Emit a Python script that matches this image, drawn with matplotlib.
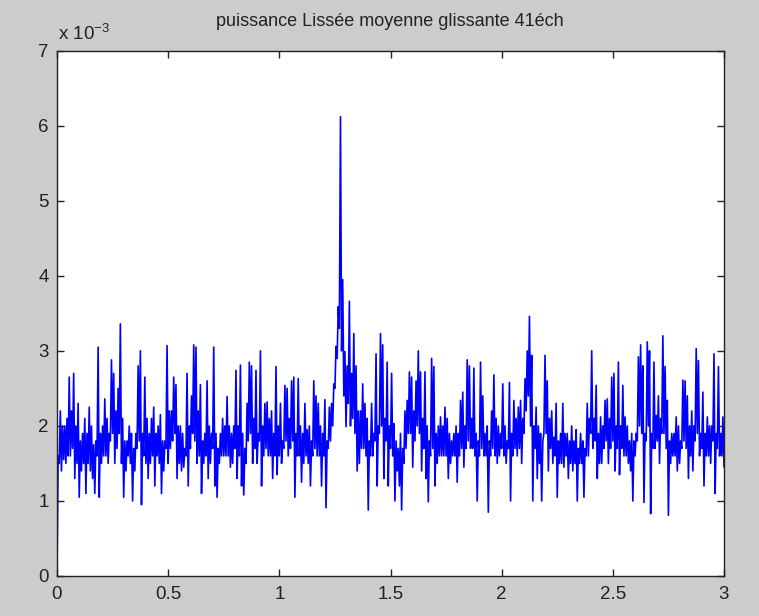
import matplotlib
matplotlib.use("Agg")
import matplotlib.pyplot as plt

# Frequency bins (step 0.01 from 0 to 3); each bin holds the min and max of the
# dense smoothed power trace (units of 1e-3).
freq_start = 0.0
freq_step = 0.01

power_lo_a = [0.0, 1.5, 1.4, 1.55, 1.5, 1.6, 1.6, 1.7, 1.3, 1.5, 1.05, 1.4, 1.5, 1.1, 1.5, 1.4, 1.3, 1.1, 1.6, 1.05,
              1.5, 1.6, 1.6, 1.5, 1.8, 1.9, 1.5, 1.7, 1.9, 1.5, 1.05, 1.4, 1.6, 1.5, 1.0, 1.4, 1.7, 1.8, 0.95, 1.6,
              1.5, 1.3, 1.5, 1.6, 1.2, 1.6, 1.5, 1.1, 1.4, 1.7, 1.5, 1.7, 1.8, 1.9, 1.3, 1.5, 1.4, 1.45, 1.6, 1.2,
              1.7, 1.9, 1.8, 1.5, 1.6, 1.1, 1.5, 1.6, 1.3, 1.5, 1.7, 1.2, 1.05, 1.5, 1.6, 1.6]
power_hi_a = [1.6, 2.2, 2.0, 2.0, 2.1, 2.65, 2.2, 2.7, 2.0, 2.3, 1.8, 1.9, 2.1, 1.9, 2.25, 2.0, 1.75, 1.8, 3.05, 1.9,
              2.0, 2.36, 2.1, 1.9, 2.88, 2.7, 2.2, 2.5, 3.36, 2.1, 1.8, 1.8, 2.0, 1.9, 1.7, 1.9, 2.8, 3.0, 1.9, 2.65,
              2.1, 1.9, 2.1, 2.25, 1.9, 2.0, 2.15, 1.8, 1.8, 3.07, 2.2, 2.2, 2.65, 2.55, 2.0, 2.0, 1.9, 1.7, 2.7, 2.0,
              2.4, 3.08, 3.05, 2.2, 2.55, 1.8, 1.9, 2.6, 2.0, 1.9, 3.05, 1.9, 1.7, 1.9, 2.1, 2.0]

power_lo_b = [1.6, 1.6, 1.45, 1.5, 1.7, 1.3, 1.6, 1.2, 1.08, 1.5, 1.8, 1.9, 1.5, 1.7, 1.5, 1.8, 1.2, 1.6, 1.7, 1.6,
              1.6, 1.3, 1.6, 1.35, 1.6, 1.5, 1.7, 1.8, 1.6, 1.7, 1.8, 1.05, 1.6, 1.6, 1.25, 1.5, 1.6, 1.5, 1.2, 1.6,
              1.7, 1.6, 1.6, 1.2, 1.6, 0.91, 1.7, 1.8, 2.0, 2.5, 2.9, 3.3, 3.0, 2.4, 1.99, 2.3, 2.0, 2.1, 1.9, 1.4,
              1.5, 1.7, 1.7, 1.6, 0.88, 1.6, 1.6, 1.8, 1.2, 1.9, 2.0, 1.3, 1.8, 1.2, 1.7]
power_hi_b = [2.39, 2.0, 1.9, 2.0, 2.74, 2.0, 2.81, 1.9, 1.7, 2.3, 2.85, 2.8, 2.1, 2.74, 1.9, 3.0, 2.0, 2.3, 2.32, 2.1,
              2.2, 1.9, 2.79, 2.0, 2.3, 1.8, 2.54, 2.5, 2.1, 2.6, 2.65, 1.9, 2.63, 2.0, 1.9, 2.3, 1.95, 2.0, 1.8, 2.6,
              2.4, 2.3, 2.0, 1.9, 2.35, 1.8, 2.25, 2.3, 2.56, 3.06, 3.59, 6.12, 3.95, 2.99, 2.8, 3.66, 2.7, 3.23, 2.8, 2.2,
              2.2, 2.56, 2.3, 2.1, 1.8, 2.3, 1.9, 2.96, 2.0, 3.23, 3.08, 2.1, 2.85, 2.0, 2.7]

power_lo_c = [1.6, 1.0, 1.4, 1.2, 0.88, 1.5, 1.7, 1.9, 1.9, 1.45, 1.8, 2.0, 1.9, 1.4, 1.7, 1.3, 0.99, 1.6, 1.7, 1.2,
              1.5, 1.6, 1.6, 1.6, 1.6, 1.3, 1.5, 1.6, 1.6, 1.25, 1.6, 1.7, 1.45, 1.7, 1.8, 1.7, 1.7, 1.6, 1.0, 1.6,
              1.7, 1.6, 1.6, 0.85, 1.6, 1.7, 1.6, 1.5, 1.6, 1.7, 1.6, 1.5, 1.7, 1.0, 1.6, 1.7, 1.6, 1.7, 1.5, 1.9,
              2.2, 2.4, 2.0, 1.0, 1.7, 1.3, 1.5, 1.0, 1.9, 1.9, 1.4, 1.7, 1.5, 1.6, 1.05, 1.5]
power_hi_c = [2.03, 1.8, 1.7, 1.9, 1.7, 2.2, 2.34, 2.72, 2.65, 2.2, 2.6, 3.0, 2.72, 2.1, 2.72, 2.0, 1.8, 2.9, 2.79, 1.9,
              2.0, 2.12, 2.0, 2.25, 2.1, 1.9, 1.8, 1.9, 2.0, 1.9, 2.34, 2.45, 2.0, 2.88, 2.8, 2.1, 2.77, 1.9, 1.8, 2.85,
              2.4, 1.9, 2.0, 1.8, 2.2, 2.68, 2.1, 2.0, 1.9, 2.56, 2.0, 1.8, 2.58, 1.9, 2.34, 2.1, 2.25, 2.34, 2.1, 2.63,
              3.0, 3.46, 2.94, 2.0, 2.25, 2.0, 1.9, 1.8, 2.94, 2.6, 2.1, 2.2, 1.85, 2.3, 1.8, 1.9]

power_lo_d = [1.5, 1.45, 1.6, 1.3, 1.5, 1.4, 1.5, 1.0, 1.5, 1.5, 1.05, 1.6, 1.6, 1.9, 1.7, 1.8, 1.3, 1.5, 1.5, 1.7,
              1.8, 1.5, 1.7, 1.8, 1.4, 1.7, 1.35, 1.7, 1.6, 1.6, 1.5, 1.4, 1.0, 1.6, 1.8, 2.0, 1.9, 0.98, 1.8, 2.0,
              0.83, 1.7, 1.7, 1.8, 1.5, 1.9, 1.9, 1.7, 0.81, 1.5, 1.6, 1.6, 1.4, 1.5, 1.7, 1.8, 1.7, 1.3, 1.6, 1.4,
              1.8, 1.9, 1.6, 1.7, 1.2, 1.6, 1.6, 1.5, 1.8, 1.1, 1.7, 1.6, 1.6, 1.45]
power_hi_d = [2.3, 1.9, 1.9, 1.8, 2.0, 1.8, 1.95, 1.7, 1.9, 1.8, 1.7, 2.3, 2.1, 3.0, 2.1, 2.54, 1.9, 2.12, 2.0, 2.34,
              2.36, 2.1, 2.65, 2.7, 2.0, 2.85, 2.0, 2.54, 2.12, 2.0, 1.8, 1.9, 1.8, 1.9, 2.92, 3.08, 2.8, 1.9, 3.12, 3.0,
              1.9, 2.85, 2.14, 2.4, 2.1, 3.2, 2.79, 2.34, 1.8, 1.9, 1.9, 2.12, 2.0, 1.8, 2.61, 2.6, 2.4, 2.0, 2.2, 2.0,
              3.03, 2.87, 1.9, 2.45, 1.9, 2.12, 2.0, 2.0, 2.96, 1.9, 2.79, 1.9, 2.12, 1.8]

power_lo = power_lo_a + power_lo_b + power_lo_c + power_lo_d
power_hi = power_hi_a + power_hi_b + power_hi_c + power_hi_d

x_ticks = [0, 0.5, 1, 1.5, 2, 2.5, 3]
x_tick_labels = ["0", "0.5", "1", "1.5", "2", "2.5", "3"]
y_ticks = [0, 1, 2, 3, 4, 5, 6, 7]
y_tick_labels = ["0", "1", "2", "3", "4", "5", "6", "7"]
title = "puissance Lissée moyenne glissante 41éch"
multiplier = r"x 10$^{-3}$"

# Interleave bin minimum and maximum into one trace
freq, power = [], []
for k, (lo, hi) in enumerate(zip(power_lo, power_hi)):
    freq += [freq_start + freq_step * k, freq_start + freq_step * (k + 0.5)]
    power += [lo, hi]

W, H = 759, 616
bg = "#cccccc"
fig = plt.figure(figsize=(W / 100, H / 100), dpi=100, facecolor=bg)
plt.rcParams["font.family"] = ["Liberation Sans", "DejaVu Sans"]
plt.rcParams["mathtext.fontset"] = "custom"
plt.rcParams["mathtext.rm"] = "Liberation Sans"
plt.rcParams["mathtext.it"] = "Liberation Sans"

L, R, T, B = 57, 724, 50.7, 576
ax = fig.add_axes([L / W, 1 - B / H, (R - L) / W, (B - T) / H])
ax.set_facecolor("white")
ax.plot(freq, power, color=(0, 0, 1), lw=1.2)

ax.set_xlim(0, 3)
ax.set_ylim(0, 7)
ax.set_xticks(x_ticks)
ax.set_xticklabels(x_tick_labels)
ax.set_yticks(y_ticks)
ax.set_yticklabels(y_tick_labels)

tc = "#222222"
for s in ax.spines.values():
    s.set_color(tc)
    s.set_linewidth(1.0)
    s.set_zorder(3)
ax.tick_params(axis="both", direction="in", length=5, width=1.0, color=tc,
               labelcolor=tc, labelsize=13.5, top=True, right=True)
ax.tick_params(axis="x", pad=7.5)
ax.tick_params(axis="y", pad=6)

fig.text(58 / W, 1 - 40 / H, multiplier, fontsize=13.5, color=tc, ha="left", va="baseline")
fig.text(390 / W, 1 - 26 / H, title, fontsize=13, color=tc, ha="center", va="baseline")

fig.savefig("out.png", dpi=100, facecolor=bg)
